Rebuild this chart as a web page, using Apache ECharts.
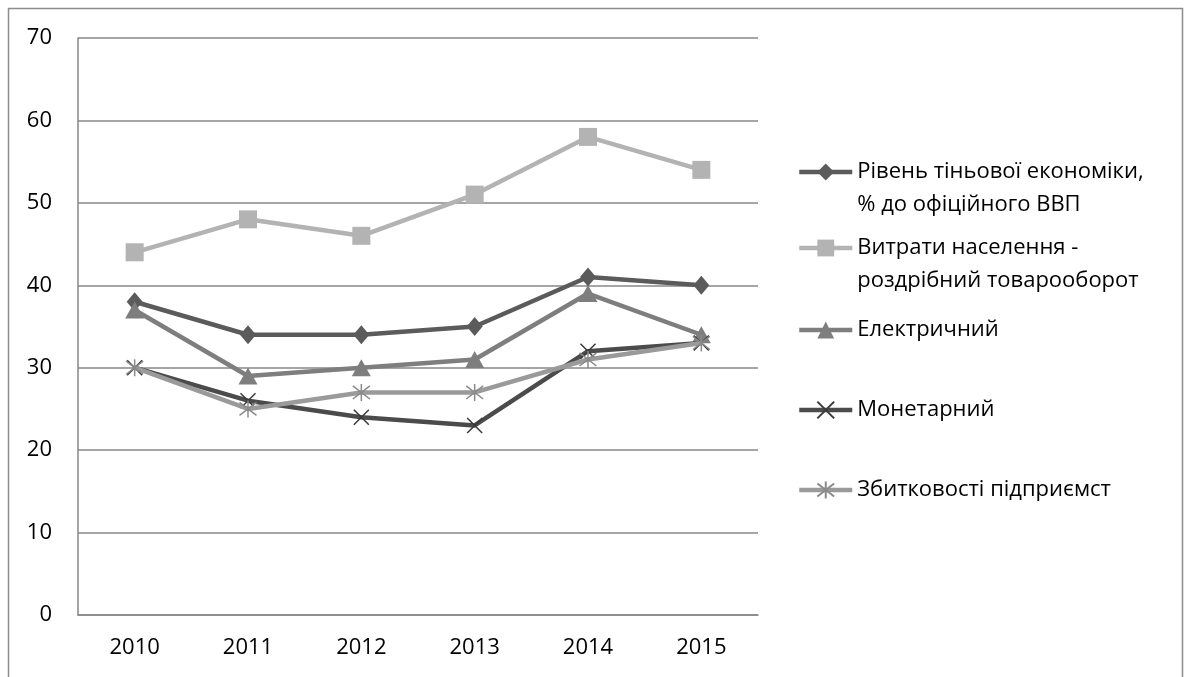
<!DOCTYPE html>
<html>
<head>
<meta charset="utf-8">
<script src="https://cdn.jsdelivr.net/npm/echarts@6/dist/echarts.min.js"></script>
<style>
html,body{margin:0;padding:0;background:#fff;}
#c{width:1184px;height:677px;}
</style>
</head>
<body>
<div id="c"></div>
<script>
const years = ['2010', '2011', '2012', '2013', '2014', '2015'];
const seriesNames = [
  'Рівень тіньової економіки,\n% до офіційного ВВП',
  'Витрати населення -\nроздрібний товарооборот',
  'Електричний',
  'Монетарний',
  'Збитковості підприємст'
];
const shadowEconomy = [38, 34, 34, 35, 41, 40];
const retailTurnover = [44, 48, 46, 51, 58, 54];
const electric = [37, 29, 30, 31, 39, 34];
const monetary = [30, 26, 24, 23, 32, 33];
const lossMaking = [30, 25, 27, 27, 31, 33];
const yTicks = [0, 10, 20, 30, 40, 50, 60, 70];

const FONT = 'Open Sans';
const FS = 22;
const colors = ['#5b5b5b', '#b3b3b3', '#7e7e7e', '#4b4b4b', '#9a9a9a'];
const symbols = [
  'diamond',
  'rect',
  'triangle',
  'path://M0,0L10,10M10,0L0,10',
  'path://M0,0L10,10M10,0L0,10M5,-1.5L5,11.5'
];
const symbolSizes = [[16, 19], 18, [19, 17], 15, 17];
const dataSets = [shadowEconomy, retailTurnover, electric, monetary, lossMaking];

const LH = 33;
const IH = 21;
const iconY = [172, 248, 330, 410, 490];

const series = seriesNames.map((name, i) => {
  const isStroke = i >= 3;
  return {
    name: name,
    type: 'line',
    data: dataSets[i],
    symbol: symbols[i],
    symbolSize: symbolSizes[i],
    showSymbol: true,
    lineStyle: { color: colors[i], width: 4.5 },
    itemStyle: isStroke
      ? { color: colors[i], borderColor: i === 3 ? '#3a3a3a' : '#8a8a8a', borderWidth: 1.5 }
      : { color: colors[i], borderWidth: 0 },
    emphasis: { disabled: true },
    z: 2 + i
  };
});

const legends = seriesNames.map((name, i) => {
  const twoLine = name.indexOf('\n') >= 0;
  return {
    orient: 'vertical',
    left: 797,
    top: twoLine ? iconY[i] - LH * 1.5 : iconY[i] - LH / 2,
    padding: 0,
    itemWidth: 53,
    itemHeight: IH,
    itemGap: 5,
    selectedMode: false,
    lineStyle: { width: 4.5 },
    data: [name],
    formatter: function (n) { return n.indexOf('\n') >= 0 ? ' \n' + n : n; },
    textStyle: { fontFamily: FONT, fontSize: FS, color: '#000', lineHeight: LH }
  };
});

const chart = echarts.init(document.getElementById('c'), null, { renderer: 'canvas' });
chart.setOption({
  animation: false,
  backgroundColor: '#fff',
  graphic: [{
    type: 'rect',
    shape: { x: 8.5, y: 8.5, width: 1174, height: 700 },
    style: { fill: 'none', stroke: '#8c8c8c', lineWidth: 1.5 },
    silent: true,
    z: -10
  }],
  grid: { left: 78, top: 38, right: 1184 - 758, bottom: 677 - 615, containLabel: false },
  legend: legends,
  xAxis: {
    type: 'category',
    data: years,
    boundaryGap: true,
    axisLine: { lineStyle: { color: '#878787', width: 1.5 } },
    axisTick: { show: false },
    axisLabel: { fontFamily: FONT, fontSize: FS, color: '#000', margin: 22 }
  },
  yAxis: {
    type: 'value',
    min: yTicks[0],
    max: yTicks[yTicks.length - 1],
    interval: 10,
    axisLine: { show: true, lineStyle: { color: '#878787', width: 1.5 } },
    axisTick: { show: false },
    splitLine: { lineStyle: { color: '#878787', width: 1.5 } },
    axisLabel: { fontFamily: FONT, fontSize: FS, color: '#000', margin: 26 }
  },
  series: series
});
</script>
</body>
</html>
